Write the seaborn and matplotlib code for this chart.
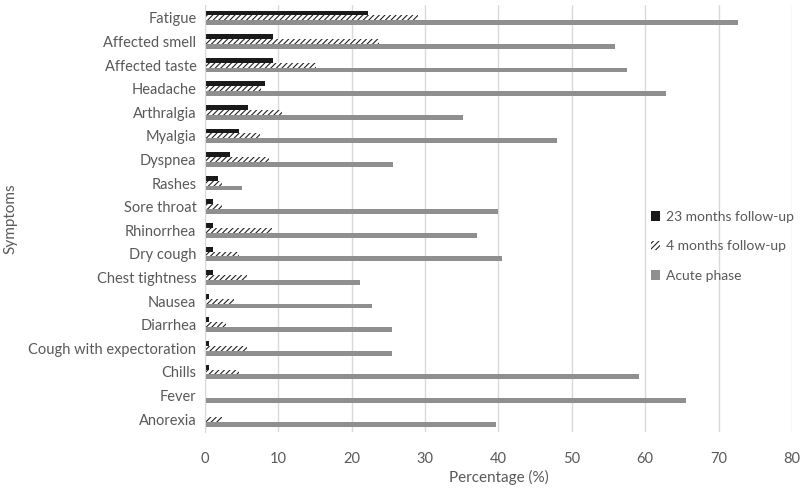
import pandas as pd
import matplotlib
import matplotlib.pyplot as plt
import seaborn as sns
from matplotlib.patches import Patch

# Symptoms, top to bottom as shown
symptoms = ['Fatigue', 'Affected smell', 'Affected taste', 'Headache', 'Arthralgia',
            'Myalgia', 'Dyspnea', 'Rashes', 'Sore throat', 'Rhinorrhea', 'Dry cough',
            'Chest tightness', 'Nausea', 'Diarrhea', 'Cough with expectoration',
            'Chills', 'Fever', 'Anorexia']

# Percentages
follow_23m = [22.2, 9.3, 9.3, 8.2, 5.9, 4.7, 3.5, 1.8, 1.1, 1.1, 1.1, 1.1,
              0.6, 0.6, 0.6, 0.6, 0.0, 0.0]
follow_4m = [29.0, 23.7, 15.1, 7.6, 10.5, 7.5, 8.7, 2.3, 2.3, 9.2, 4.6, 5.8,
             4.0, 2.9, 5.8, 4.6, 0.0, 2.3]
acute = [72.6, 55.9, 57.5, 62.8, 35.2, 48.0, 25.6, 5.0, 40.0, 37.1, 40.5, 21.2,
         22.8, 25.5, 25.5, 59.1, 65.5, 39.7]

series_names = ['23 months follow-up', '4 months follow-up', 'Acute phase']
x_ticks = [0, 10, 20, 30, 40, 50, 60, 70, 80]

# Long-form table for seaborn
rows = []
for name, vals in zip(series_names, [follow_23m, follow_4m, acute]):
    for s, v in zip(symptoms, vals):
        rows.append({'Symptom': s, 'Series': name, 'Value': v})
df = pd.DataFrame(rows)

sns.set_style('white')
plt.rcParams['font.family'] = ['Lato', 'DejaVu Sans']
plt.rcParams['hatch.linewidth'] = 0.8

text_color = '#595959'
palette = {'23 months follow-up': '#1a1a1a', '4 months follow-up': '#ffffff',
           'Acute phase': '#8f8f8f'}

fig, ax = plt.subplots(figsize=(8, 4.9), dpi=100)
fig.subplots_adjust(left=0.256, right=0.99, top=0.99, bottom=0.118)

sns.barplot(data=df, y='Symptom', x='Value', hue='Series', order=symptoms,
            hue_order=series_names, palette=palette, orient='h', width=0.62,
            linewidth=0, saturation=1, legend=False, ax=ax)

# Hatch the 4 months series
for bar in ax.containers[1]:
    bar.set_hatch('//////')
    bar.set_edgecolor('#222222')
    bar.set_linewidth(0)

ax.set_xlim(0, 80)
ax.set_xticks(x_ticks)
ax.set_ylim(len(symptoms) - 0.45, -0.55)
ax.xaxis.grid(True, color='#d9d9d9', linewidth=1)
ax.set_axisbelow(True)
for side in ['top', 'right', 'bottom']:
    ax.spines[side].set_visible(False)
ax.spines['left'].set_color('#d9d9d9')
ax.tick_params(axis='y', length=0, labelsize=10.5, colors=text_color, pad=6)
ax.tick_params(axis='x', length=0, labelsize=10.5, colors=text_color, pad=14)

ax.set_xlabel('Percentage (%)', fontsize=11, color=text_color, labelpad=3)
ax.set_ylabel('Symptoms', fontsize=11, color=text_color, labelpad=8)

handles = [Patch(facecolor='#1a1a1a', edgecolor='#1a1a1a', linewidth=0),
           Patch(facecolor='white', edgecolor='#222222', hatch='//////', linewidth=0),
           Patch(facecolor='#8f8f8f', edgecolor='#8f8f8f', linewidth=0)]
leg = ax.legend(handles, series_names, loc='center left', bbox_to_anchor=(0.75, 0.435),
                frameon=False, handlelength=0.7, handleheight=0.7, handletextpad=0.4,
                labelspacing=1.25, fontsize=10, borderaxespad=0)
for t in leg.get_texts():
    t.set_color(text_color)

fig.savefig('out.png', dpi=100)
